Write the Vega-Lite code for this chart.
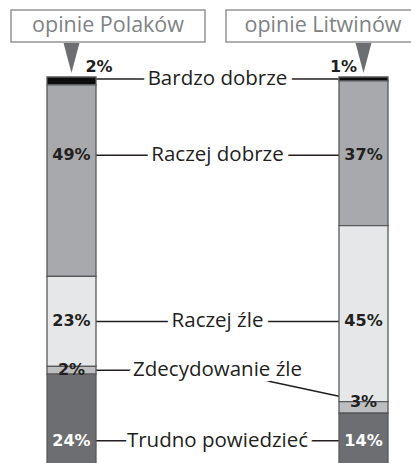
{
  "$schema": "https://vega.github.io/schema/vega-lite/v6.json",
  "width": 341,
  "height": 386,
  "autosize": {"type": "none"},
  "padding": {"left": 47, "right": 23, "top": 77, "bottom": 0},
  "background": "white",
  "config": {"view": {"stroke": null}},
  "data": {
    "values": [
      {"kraj": "opinie Polaków", "kat": "Bardzo dobrze", "idx": 0, "pct": 2},
      {"kraj": "opinie Polaków", "kat": "Raczej dobrze", "idx": 1, "pct": 49},
      {"kraj": "opinie Polaków", "kat": "Raczej źle", "idx": 2, "pct": 23},
      {"kraj": "opinie Polaków", "kat": "Zdecydowanie źle", "idx": 3, "pct": 2},
      {"kraj": "opinie Polaków", "kat": "Trudno powiedzieć", "idx": 4, "pct": 24},
      {"kraj": "opinie Litwinów", "kat": "Bardzo dobrze", "idx": 0, "pct": 1},
      {"kraj": "opinie Litwinów", "kat": "Raczej dobrze", "idx": 1, "pct": 37},
      {"kraj": "opinie Litwinów", "kat": "Raczej źle", "idx": 2, "pct": 45},
      {"kraj": "opinie Litwinów", "kat": "Zdecydowanie źle", "idx": 3, "pct": 3},
      {"kraj": "opinie Litwinów", "kat": "Trudno powiedzieć", "idx": 4, "pct": 14}
    ]
  },
  "transform": [
    {"stack": "pct", "groupby": ["kraj"], "sort": [{"field": "idx", "order": "ascending"}], "as": ["y0", "y1"]},
    {"calculate": "(datum.y0 + datum.y1) / 2", "as": "ymid"},
    {"joinaggregate": [
      {"op": "max", "field": "y0", "as": "lo"},
      {"op": "min", "field": "y1", "as": "hi"},
      {"op": "min", "field": "ymid", "as": "minmid"}
    ], "groupby": ["kat"]},
    {"calculate": "datum.hi > datum.lo ? (datum.lo + datum.hi) / 2 : datum.minmid", "as": "labelY"},
    {"calculate": "clamp(datum.labelY, datum.y0, datum.y1)", "as": "textY"},
    {"calculate": "datum.pct + '%'", "as": "ptxt"}
  ],
  "encoding": {
    "x": {
      "field": "kraj",
      "type": "nominal",
      "axis": null,
      "scale": {"type": "band", "domain": ["opinie Polaków", "mid", "opinie Litwinów"], "paddingInner": 0.6644, "paddingOuter": 0}
    }
  },
  "layer": [
    {
      "mark": {"type": "rule", "stroke": "#231f20", "strokeWidth": 1.5},
      "encoding": {
        "y": {"field": "textY", "type": "quantitative", "axis": null, "scale": {"domain": [0, 98.72], "reverse": true, "nice": false, "zero": false}},
        "y2": {"field": "labelY"},
        "x2": {"datum": "mid"}
      }
    },
    {
      "mark": {"type": "bar", "stroke": "#58595b", "strokeWidth": 1.3},
      "encoding": {
        "y": {"field": "y0", "type": "quantitative", "axis": null, "scale": {"domain": [0, 98.72], "reverse": true, "nice": false, "zero": false}},
        "y2": {"field": "y1"},
        "color": {
          "field": "kat",
          "type": "nominal",
          "legend": null,
          "scale": {
            "domain": ["Bardzo dobrze", "Raczej dobrze", "Raczej źle", "Zdecydowanie źle", "Trudno powiedzieć"],
            "range": ["#0d0d0d", "#a7a9ac", "#e6e7e8", "#bcbec0", "#6d6e71"]
          }
        }
      }
    },
    {
      "transform": [{"filter": "datum.idx == 0"}],
      "mark": {"type": "point", "shape": "M-0.53,-1L0.53,-1L0,1Z", "size": 900, "filled": true, "fill": "#6d6e71", "opacity": 1, "strokeWidth": 0},
      "encoding": {"y": {"datum": -4.86, "type": "quantitative"}}
    },
    {
      "transform": [{"filter": "datum.idx == 0 && datum.kraj == 'opinie Polaków'"}],
      "mark": {"type": "bar", "width": 194, "xOffset": 36.5, "fill": "white", "stroke": "#939598", "strokeWidth": 1.5},
      "encoding": {"y": {"datum": -17.14, "type": "quantitative"}, "y2": {"datum": -8.95}}
    },
    {
      "transform": [{"filter": "datum.idx == 0 && datum.kraj == 'opinie Litwinów'"}],
      "mark": {"type": "bar", "width": 194, "xOffset": -40.5, "fill": "white", "stroke": "#939598", "strokeWidth": 1.5},
      "encoding": {"y": {"datum": -17.14, "type": "quantitative"}, "y2": {"datum": -8.95}}
    },
    {
      "transform": [{"filter": "datum.idx == 0 && datum.kraj == 'opinie Polaków'"}],
      "mark": {"type": "text", "dx": 36.5, "font": "Open Sans", "fontSize": 21.5, "fill": "#808285", "baseline": "middle", "align": "center"},
      "encoding": {"y": {"datum": -13.04, "type": "quantitative"}, "text": {"field": "kraj"}}
    },
    {
      "transform": [{"filter": "datum.idx == 0 && datum.kraj == 'opinie Litwinów'"}],
      "mark": {"type": "text", "dx": -40.5, "font": "Open Sans", "fontSize": 21.5, "fill": "#808285", "baseline": "middle", "align": "center"},
      "encoding": {"y": {"datum": -13.04, "type": "quantitative"}, "text": {"field": "kraj"}}
    },
    {
      "transform": [{"filter": "datum.kraj == 'opinie Polaków'"}],
      "mark": {"type": "text", "font": "Open Sans", "fontSize": 20.5, "fill": "white", "stroke": "white", "strokeWidth": 11, "strokeJoin": "round", "baseline": "middle", "align": "center"},
      "encoding": {"x": {"datum": "mid"}, "y": {"field": "labelY", "type": "quantitative"}, "text": {"field": "kat"}}
    },
    {
      "transform": [{"filter": "datum.kraj == 'opinie Polaków'"}],
      "mark": {"type": "text", "font": "Open Sans", "fontSize": 20.5, "fill": "#231f20", "baseline": "middle", "align": "center"},
      "encoding": {"x": {"datum": "mid"}, "y": {"field": "labelY", "type": "quantitative"}, "text": {"field": "kat"}}
    },
    {
      "transform": [{"filter": "datum.idx > 0"}],
      "mark": {"type": "text", "font": "DejaVu Sans", "fontWeight": "bold", "fontSize": 16, "baseline": "middle", "align": "center"},
      "encoding": {
        "y": {"field": "textY", "type": "quantitative"},
        "text": {"field": "ptxt"},
        "color": {"condition": {"test": "datum.idx == 4", "value": "white"}, "value": "#231f20"}
      }
    },
    {
      "transform": [{"filter": "datum.idx == 0 && datum.kraj == 'opinie Polaków'"}],
      "mark": {"type": "text", "dx": 27.5, "dy": -5, "font": "DejaVu Sans", "fontWeight": "bold", "fontSize": 16, "baseline": "alphabetic", "align": "center", "fill": "#231f20"},
      "encoding": {"y": {"field": "y0", "type": "quantitative"}, "text": {"field": "ptxt"}}
    },
    {
      "transform": [{"filter": "datum.idx == 0 && datum.kraj == 'opinie Litwinów'"}],
      "mark": {"type": "text", "dx": -20, "dy": -5, "font": "DejaVu Sans", "fontWeight": "bold", "fontSize": 16, "baseline": "alphabetic", "align": "center", "fill": "#231f20"},
      "encoding": {"y": {"field": "y0", "type": "quantitative"}, "text": {"field": "ptxt"}}
    }
  ]
}
